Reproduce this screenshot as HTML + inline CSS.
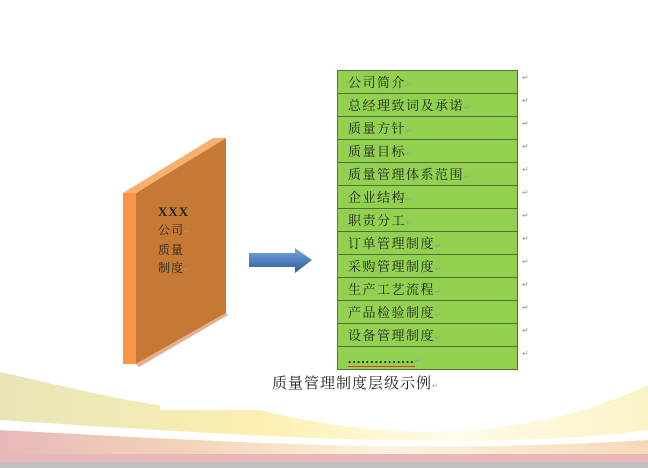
<!DOCTYPE html>
<html><head><meta charset="utf-8"><style>
body{margin:0;width:648px;height:468px;overflow:hidden;background:#fff;position:relative;font-family:"Liberation Serif","Noto Serif CJK SC",serif;}
.t{position:absolute;left:337px;top:70px;width:179px;border:1px solid #5a6a4a;border-bottom:none;}
.r{height:22px;border-bottom:1px solid #556b3a;background:#92d050;font-size:13px;line-height:23px;padding-left:10px;letter-spacing:1.5px;color:#222;position:relative;}
.r::after{content:"↵";position:absolute;left:184px;top:-5px;font-size:8px;color:#999;}
.m{font-size:7px;color:#999;}
</style></head><body>
<svg width="648" height="468" style="position:absolute;left:0;top:0">
<defs>
<linearGradient id="y" x1="0" x2="1"><stop offset="0" stop-color="#e8e4b8"/><stop offset=".4" stop-color="#fbf0b0"/><stop offset=".7" stop-color="#fffbe8"/><stop offset="1" stop-color="#faf3c8"/></linearGradient>
<linearGradient id="p" x1="0" x2="1"><stop offset="0" stop-color="#e7b8b8"/><stop offset=".3" stop-color="#f3d5b8"/><stop offset=".6" stop-color="#fdf3df"/><stop offset="1" stop-color="#f6d9b8"/></linearGradient>
<linearGradient id="a" x1="0" y1="0" x2="0" y2="1"><stop offset="0" stop-color="#7fa8dc"/><stop offset=".5" stop-color="#4f81bd"/><stop offset="1" stop-color="#2f5d95"/></linearGradient>
</defs>
<path d="M0,372 C80,390 120,400 160,405 L160,410 L260,410 C380,440 520,445 648,385 L648,430 C500,450 300,440 0,420 Z" fill="url(#y)"/>
<path d="M0,430 C200,440 400,455 648,440 L648,462 L0,462 Z" fill="url(#p)"/>
<rect x="0" y="454" width="648" height="8" fill="#e6b8b8"/>
<rect x="0" y="462" width="648" height="6" fill="#c0c0c0"/>
<polygon points="123,193 136,193 226,138 213,138" fill="#f8b070"/>
<polygon points="123,193 136,193 136,364 123,364" fill="#f79646"/>
<polygon points="136,193 226,138 226,313 136,364" fill="#c67934"/>
<polygon points="136,364 226,313 228,315 139,367" fill="#e0b090"/>
<polygon points="249,253 295,253 295,248 312,260 295,273 295,267 249,267" fill="url(#a)"/>
</svg>
<div style="position:absolute;left:158px;top:203px;font-size:12px;line-height:18px;color:#222;letter-spacing:1px"><b style="font-size:13px">XXX</b><br>公司<span class="m">↵</span><br>质量<br>制度<span class="m">↵</span></div>
<div class="t">
<div class="r">公司简介<span class="m">↵</span></div>
<div class="r">总经理致词及承诺<span class="m">↵</span></div>
<div class="r">质量方针<span class="m">↵</span></div>
<div class="r">质量目标<span class="m">↵</span></div>
<div class="r">质量管理体系范围<span class="m">↵</span></div>
<div class="r">企业结构<span class="m">↵</span></div>
<div class="r">职责分工<span class="m">↵</span></div>
<div class="r">订单管理制度<span class="m">↵</span></div>
<div class="r">采购管理制度<span class="m">↵</span></div>
<div class="r">生产工艺流程<span class="m">↵</span></div>
<div class="r">产品检验制度<span class="m">↵</span></div>
<div class="r">设备管理制度<span class="m">↵</span></div>
<div class="r" style="letter-spacing:0"><span style="border-bottom:1px solid #e04020;line-height:14px;display:inline-block;font-weight:bold;letter-spacing:1.2px">...............</span><span class="m">↵</span></div>
</div>
<div style="position:absolute;left:272px;top:372px;font-size:15px;color:#222;letter-spacing:1px">质量管理制度层级示例<span class="m">↵</span></div>
</body></html>
